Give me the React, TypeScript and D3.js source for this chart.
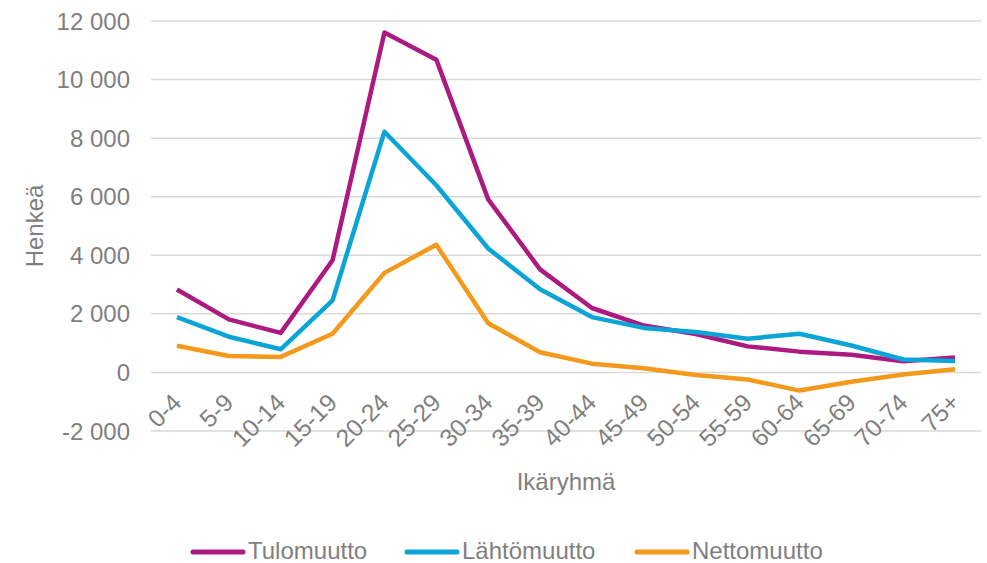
import React from "react";
import * as d3 from "d3";

const categories = ["0-4","5-9","10-14","15-19","20-24","25-29","30-34","35-39","40-44","45-49","50-54","55-59","60-64","65-69","70-74","75+"];
const tulomuutto = [2830, 1810, 1350, 3830, 11610, 10680, 5910, 3520, 2200, 1600, 1310, 890, 710, 600, 380, 510];
const lahtomuutto = [1890, 1220, 790, 2460, 8220, 6390, 4230, 2840, 1890, 1520, 1380, 1150, 1320, 920, 440, 390];
const nettomuutto = [910, 560, 530, 1320, 3400, 4360, 1680, 690, 300, 140, -90, -240, -620, -320, -70, 110];
const yTicks = [-2000, 0, 2000, 4000, 6000, 8000, 10000, 12000];

const series = [
  { name: "Tulomuutto", values: tulomuutto, color: "#ac1a81" },
  { name: "Lähtömuutto", values: lahtomuutto, color: "#0aa5d6" },
  { name: "Nettomuutto", values: nettomuutto, color: "#f5991c" },
];

const W = 987, H = 563;
const FONT = "'Liberation Sans', Arial, sans-serif";
const GRAY = "#7f7f7f";

export default function App() {
  const x = d3.scaleBand<string>().domain(categories).range([151, 981]);
  const y = d3.scaleLinear().domain([-2000, 12000]).range([431, 21]);
  const cx = (c: string) => (x(c) as number) + x.bandwidth() / 2;
  const line = d3.line<number>().x((_, i) => cx(categories[i])).y((v) => y(v));
  const fmt = (v: number) => (v < 0 ? "-" : "") + d3.format(",")(Math.abs(v)).replace(/,/g, " ");
  const legendX = [193, 407, 637];

  return (
    <svg width={W} height={H} style={{ position: "absolute", left: 0, top: 0, background: "#fff" }} fontFamily={FONT}>
      {yTicks.map((t) => (
        <g key={t}>
          <line x1={151} x2={981} y1={y(t)} y2={y(t)} stroke="#d9d9d9" strokeWidth={1.5} />
          <text x={130} y={y(t)} dy="0.36em" textAnchor="end" fontSize={24} fill={GRAY}>{fmt(t)}</text>
        </g>
      ))}
      {categories.map((c) => (
        <text key={c} transform={`translate(${cx(c) + 6},${404}) rotate(-45)`} textAnchor="end" fontSize={24.5} fill={GRAY}>{c}</text>
      ))}
      {series.map((s) => (
        <path key={s.name} d={line(s.values) || ""} fill="none" stroke={s.color} strokeWidth={4.5} strokeLinejoin="round" />
      ))}
      <text transform={`translate(43,${(y(-2000) + y(12000)) / 2}) rotate(-90)`} textAnchor="middle" fontSize={24} fill={GRAY}>Henkeä</text>
      <text x={566} y={490} textAnchor="middle" fontSize={24} fill={GRAY}>Ikäryhmä</text>
      {series.map((s, i) => (
        <g key={s.name}>
          <line x1={legendX[i]} x2={legendX[i] + 50} y1={552} y2={552} stroke={s.color} strokeWidth={5} strokeLinecap="round" />
          <text x={legendX[i] + 55} y={559} fontSize={24} fill={GRAY}>{s.name}</text>
        </g>
      ))}
    </svg>
  );
}
